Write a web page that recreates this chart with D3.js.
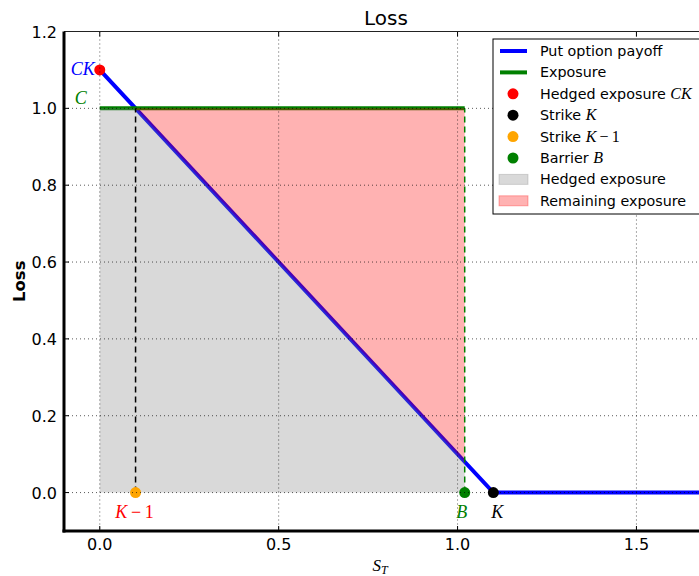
<!DOCTYPE html>
<html>
<head>
<meta charset="utf-8">
<script src="https://cdn.jsdelivr.net/npm/d3@7"></script>
<style>
  body { margin: 0; background: #fff; }
  text { font-family: "DejaVu Sans", sans-serif; }
  .math { font-family: "Liberation Serif", "DejaVu Serif", serif; }
</style>
</head>
<body>
<div class="chart"></div>
<script>
// put option hedge vs exposure, loss as a function of S_T

// ---- data ----
var strikeK = 1.1;
var hedgeCK = 1.1;
var exposureC = 1.0;
var barrierB = 1.02;

var payoffS = [0, 1.1, 1.7];
var payoffLoss = [1.1, 0, 0];
var exposureS = [0, 1.02];
var exposureLoss = [1.0, 1.0];
var hedgedS = [0, 0.1, 1.02];
var hedgedTop = [1.0, 1.0, 0.08];
var remainingS = [0.1, 1.02];
var remainingLow = [1.0, 0.08];
var remainingHigh = [1.0, 1.0];

var xTicks = [0.0, 0.5, 1.0, 1.5];
var yTicks = [0.0, 0.2, 0.4, 0.6, 0.8, 1.0, 1.2];

var points = [
  {s: 0, v: hedgeCK, color: "#ff0000"},
  {s: strikeK, v: 0, color: "#000000"},
  {s: strikeK - 1, v: 0, color: "#ffa500"},
  {s: barrierB, v: 0, color: "#008000"}
];

// ---- svg ----
var svgWidth = 699, svgHeight = 576;
var plot = {left: 64, right: 708, top: 31.5, bottom: 531};

var svg = d3.select(".chart").append("svg").attr("width", svgWidth).attr("height", svgHeight);
svg.append("rect").attr("width", svgWidth).attr("height", svgHeight).attr("fill", "#fff");

var x = d3.scaleLinear().domain([-0.1, 1.7]).range([plot.left, plot.right]);
var y = d3.scaleLinear().domain([-0.1, 1.2]).range([plot.bottom, plot.top]);

var g = svg.append("g");
var line = d3.line().x(d => x(d[0])).y(d => y(d[1]));

// lines
g.append("path").datum(d3.zip(payoffS, payoffLoss)).attr("d", line)
  .attr("fill", "none").attr("stroke", "#0000ff").attr("stroke-width", 4);
g.append("path").datum(d3.zip(exposureS, exposureLoss)).attr("d", line)
  .attr("fill", "none").attr("stroke", "#008000").attr("stroke-width", 4);

// fills
var hedgedArea = d3.area().x(d => x(d[0])).y0(y(0)).y1(d => y(d[1]));
g.append("path").datum(d3.zip(hedgedS, hedgedTop)).attr("d", hedgedArea)
  .attr("fill", "#808080").attr("fill-opacity", 0.3);
var remArea = d3.area().x(d => x(d[0])).y0(d => y(d[1])).y1(d => y(d[2]));
g.append("path").datum(d3.zip(remainingS, remainingLow, remainingHigh)).attr("d", remArea)
  .attr("fill", "#ff0000").attr("fill-opacity", 0.3);

// grid
var grid = svg.append("g").attr("stroke", "#000").attr("stroke-opacity", 0.65)
  .attr("stroke-width", 1).attr("stroke-dasharray", "1,3");
xTicks.forEach(function(t) {
  grid.append("line").attr("x1", x(t)).attr("x2", x(t)).attr("y1", plot.top).attr("y2", plot.bottom);
});
yTicks.forEach(function(t) {
  grid.append("line").attr("x1", plot.left).attr("x2", plot.right).attr("y1", y(t)).attr("y2", y(t));
});

// dashed markers for K-1 and B
g.append("line").attr("x1", x(strikeK - 1)).attr("x2", x(strikeK - 1)).attr("y1", y(0)).attr("y2", y(exposureC))
  .attr("stroke", "#000").attr("stroke-width", 1.5).attr("stroke-dasharray", "6,4");
g.append("line").attr("x1", x(barrierB)).attr("x2", x(barrierB)).attr("y1", y(0)).attr("y2", y(exposureC))
  .attr("stroke", "#008000").attr("stroke-width", 1.5).attr("stroke-dasharray", "6,4");

// points
g.selectAll("circle.pt").data(points).enter().append("circle")
  .attr("class", "pt")
  .attr("cx", d => x(d.s)).attr("cy", d => y(d.v)).attr("r", 5.5)
  .attr("fill", d => d.color);

// axes (ticks inside, all four sides)
var axes = svg.append("g").attr("font-size", 16).attr("fill", "#000");
xTicks.forEach(function(t) {
  axes.append("line").attr("x1", x(t)).attr("x2", x(t)).attr("y1", plot.bottom).attr("y2", plot.bottom - 5).attr("stroke", "#000");
  axes.append("line").attr("x1", x(t)).attr("x2", x(t)).attr("y1", plot.top).attr("y2", plot.top + 5).attr("stroke", "#000");
  axes.append("text").attr("x", x(t)).attr("y", 550).attr("text-anchor", "middle").text(d3.format(".1f")(t));
});
yTicks.forEach(function(t) {
  axes.append("line").attr("x1", plot.left).attr("x2", plot.left + 5).attr("y1", y(t)).attr("y2", y(t)).attr("stroke", "#000");
  axes.append("text").attr("x", 57).attr("y", y(t) + 6).attr("text-anchor", "end").text(d3.format(".1f")(t));
});
svg.append("line").attr("x1", plot.left).attr("x2", svgWidth).attr("y1", plot.top).attr("y2", plot.top)
  .attr("stroke", "#222").attr("stroke-width", 1);
svg.append("line").attr("x1", plot.left).attr("x2", plot.left).attr("y1", plot.top).attr("y2", plot.bottom + 1.5)
  .attr("stroke", "#000").attr("stroke-width", 3);
svg.append("line").attr("x1", plot.left - 1.5).attr("x2", svgWidth).attr("y1", plot.bottom).attr("y2", plot.bottom)
  .attr("stroke", "#000").attr("stroke-width", 3);

// annotations
function mathLabel(px, py, anchor, color, parts) {
  var t = svg.append("text").attr("x", px).attr("y", py).attr("text-anchor", anchor)
    .attr("fill", color).attr("font-size", 18).attr("class", "math");
  parts.forEach(function(p) {
    t.append("tspan").style("font-style", p[1] ? "italic" : "normal").text(p[0]);
  });
}
mathLabel(x(0) - 5, y(hedgeCK) + 5, "end", "#0000ff", [["CK", true]]);
mathLabel(x(0) - 25, y(exposureC) - 4, "start", "#008000", [["C", true]]);
mathLabel(x(strikeK - 1) - 1, y(0) + 25, "middle", "#ff0000", [["K", true], ["\u2009\u2212\u20091", false]]);
mathLabel(x(barrierB) - 3, y(0) + 25, "middle", "#008000", [["B", true]]);
mathLabel(x(strikeK) + 4, y(0) + 25, "middle", "#000000", [["K", true]]);

// title and axis labels
svg.append("text").attr("x", (plot.left + plot.right) / 2).attr("y", 25).attr("text-anchor", "middle")
  .attr("font-size", 20).text("Loss");
svg.append("text").attr("transform", `translate(25, ${(plot.top + plot.bottom) / 2}) rotate(-90)`)
  .attr("text-anchor", "middle").attr("font-size", 16.5).attr("font-weight", "bold").text("Loss");
var xl = svg.append("text").attr("x", (plot.left + plot.right) / 2 - 6).attr("y", 571)
  .attr("text-anchor", "middle").attr("font-size", 17).attr("class", "math").style("font-style", "italic");
xl.append("tspan").text("S");
xl.append("tspan").attr("font-size", 12).attr("dy", 3).text("T");

// legend
var legendItems = [
  {type: "line", color: "#0000ff", label: [["Put option payoff", false]]},
  {type: "line", color: "#008000", label: [["Exposure", false]]},
  {type: "dot", color: "#ff0000", label: [["Hedged exposure ", false], ["CK", true]]},
  {type: "dot", color: "#000000", label: [["Strike ", false], ["K", true]]},
  {type: "dot", color: "#ffa500", label: [["Strike ", false], ["K", true], ["\u2009\u2212\u20091", false, true]]},
  {type: "dot", color: "#008000", label: [["Barrier ", false], ["B", true]]},
  {type: "patch", color: "#808080", label: [["Hedged exposure", false]]},
  {type: "patch", color: "#ff0000", label: [["Remaining exposure", false]]}
];
var leg = svg.append("g");
leg.append("rect").attr("x", 493).attr("y", 39).attr("width", 208).attr("height", 175)
  .attr("fill", "#fff").attr("stroke", "#000").attr("stroke-width", 1);
legendItems.forEach(function(item, i) {
  var cy = 51 + i * 21.4;
  if (item.type === "line") {
    leg.append("line").attr("x1", 500).attr("x2", 527).attr("y1", cy).attr("y2", cy)
      .attr("stroke", item.color).attr("stroke-width", 4);
  } else if (item.type === "dot") {
    leg.append("circle").attr("cx", 513).attr("cy", cy).attr("r", 5.5).attr("fill", item.color);
  } else {
    leg.append("rect").attr("x", 499).attr("y", cy - 5).attr("width", 29).attr("height", 10)
      .attr("fill", item.color).attr("fill-opacity", 0.3).attr("stroke", item.color).attr("stroke-opacity", 0.3);
  }
  var t = leg.append("text").attr("x", 540).attr("y", cy + 5).attr("font-size", 14.3);
  item.label.forEach(function(p) {
    var sp = t.append("tspan").text(p[0]);
    if (p[1] || p[2]) sp.attr("class", "math").attr("font-size", 16).style("font-style", p[1] ? "italic" : "normal");
  });
});
</script>
</body>
</html>
